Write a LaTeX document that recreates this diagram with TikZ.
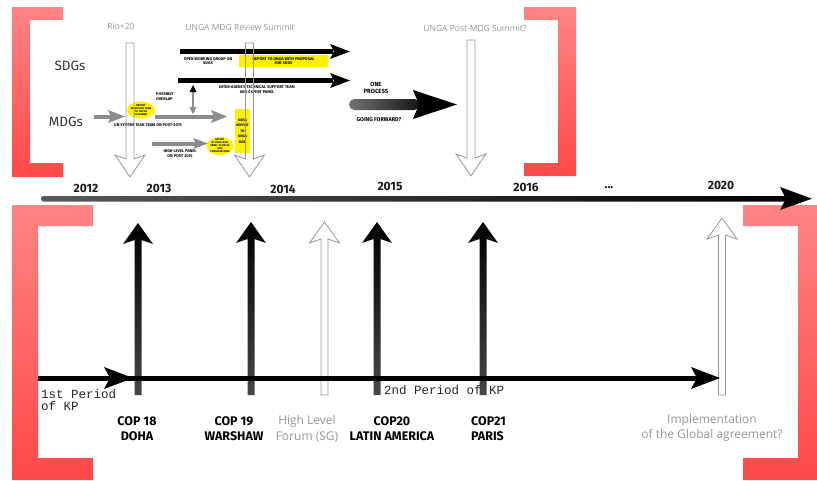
\documentclass[tikz,border=0pt]{standalone}
\usepackage{fontspec}
\setmainfont{Fira Sans}
\newfontfamily\graysans{Open Sans}
\newfontfamily\monof{Liberation Mono}
\usetikzlibrary{shapes.geometric}
\definecolor{brLight}{RGB}{255,132,132}
\definecolor{brDark}{RGB}{255,72,72}
\definecolor{hollowc}{RGB}{150,150,150}
\definecolor{lblgray}{RGB}{150,150,150}
\definecolor{ylw}{RGB}{255,240,0}
\definecolor{mdgc}{RGB}{140,140,140}
\newcommand\upArrow[4]{%
  \path[#1] ({#2-3.5},#4) -- ({#2-3.5},{#3+17}) -- ({#2-15},{#3+21}) -- (#2,#3)
    -- ({#2+15},{#3+21}) -- ({#2+3.5},{#3+17}) -- ({#2+3.5},#4) -- cycle;}
\newcommand\downArrow[4]{%
  \path[#1] ({#2-4},#3) -- ({#2+4},#3) -- ({#2+4},{#4-18}) -- ({#2+15},{#4-22}) -- (#2,#4)
    -- ({#2-15},{#4-22}) -- ({#2-4},{#4-18}) -- cycle;}
\begin{document}
\begin{tikzpicture}[x=1pt,y=-1pt,
  bracket/.style={top color=brLight, bottom color=brDark, draw=none},
  hollowarr/.style={draw=hollowc, line width=0.8pt},
  hollowup/.style={draw=hollowc, line width=0.8pt, fill=white},
  solidup/.style={top color=black, bottom color=black!72, draw=none},
  year/.style={font=\fontsize{12}{12}\selectfont\bfseries, text=black!90, inner sep=0},
  grayt/.style={font=\graysans\fontsize{8.5}{9}\selectfont, text=lblgray, inner sep=0},
  graybig/.style={font=\graysans\fontsize{12}{15.5}\selectfont, text=lblgray, align=center, inner sep=0},
  cop/.style={font=\fontsize{12.5}{15}\selectfont\bfseries, align=center, inner sep=0},
  tinyt/.style={font=\fontsize{4}{4.6}\selectfont\bfseries, align=center, inner sep=0},
  tinier/.style={font=\fontsize{2.6}{3}\selectfont\bfseries, align=center, inner sep=0},
  mono/.style={font=\monof\fontsize{12.5}{11.5}\selectfont, text=black!85, inner sep=0},
  mdgarr/.style={fill=mdgc, draw=none},
  blackarr/.style={fill=black, draw=none},
  yellowbox/.style={fill=ylw, draw=none}]
\useasboundingbox (0,0) rectangle (817,480);
% brackets
\path[bracket] (12,7) -- (63,7) -- (63,20) -- (30,20) -- (30,163) -- (63,163) -- (63,177) -- (12,177) -- cycle;
\path[bracket] (524,7) -- (576,7) -- (576,176) -- (524,176) -- (524,163) -- (558,163) -- (558,20) -- (524,20) -- cycle;
\path[bracket] (12,205) -- (93,205) -- (93,226) -- (38,226) -- (38,458) -- (93,458) -- (93,480) -- (12,480) -- cycle;
\path[bracket] (743,205) -- (817,205) -- (817,480) -- (743,480) -- (743,458) -- (798,458) -- (798,226) -- (743,226) -- cycle;

% top section titles
\node[grayt] (rio) at (121,26) {Rio+20};
\node[grayt] (unga1) at (240,27) {UNGA MDG Review Summit};
\node[grayt] (unga2) at (475,28) {UNGA Post-MDG Summit?};
\node[font=\fontsize{13.5}{14}\selectfont, text=black!80, inner sep=0] (sdg) at (70,66) {SDGs};
\node[font=\fontsize{13.5}{14}\selectfont, text=black!80, inner sep=0] (mdg) at (66,122) {MDGs};

% SDG arrows
\path[blackarr] (180,49) rectangle (333,54);
\path[blackarr] (330,44) -- (350,51.5) -- (330,59) -- (334,51.5) -- cycle;
\path[blackarr] (178,78) rectangle (333,83);
\path[blackarr] (330,73) -- (350,80.5) -- (330,88) -- (334,80.5) -- cycle;
\node[tinyt] (owg) at (208,61) {OPEN WORKING GROUP ON\\SDGS};
\path[yellowbox] (239,55) rectangle (328,67);
\node[tinyt] (rep) at (283.5,61) {REPORT TO UNGA WITH PROPOSAL\\FOR SDGS};
\node[tinyt] (iat) at (257,89.5) {INTER-AGENCY TECHNICAL SUPPORT TEAM\\AND EXPERT PANEL};

% one process arrow
\path[left color=black!55, right color=black!92, rounded corners=5.5pt] (349,99) rectangle (420,110);
\path[blackarr] (413,90) -- (457,104.5) -- (413,119) -- (419,104.5) -- cycle;
\node[font=\fontsize{6}{7}\selectfont\bfseries, align=center, inner sep=0] (onep) at (376,88) {ONE\\PROCESS};
\node[font=\fontsize{5.5}{6}\selectfont\bfseries, inner sep=0] (gf) at (379,119.5) {GOING FORWARD?};

% MDG arrows
\path[mdgarr] (94,114.5) rectangle (111,118.5);
\path[mdgarr] (108,110) -- (125,116.5) -- (108,123) -- (111,116.5) -- cycle;
\path[mdgarr] (155,114.5) rectangle (214,118.5);
\path[mdgarr] (211,110) -- (227,116.5) -- (211,123) -- (214,116.5) -- cycle;
\path[mdgarr] (152,141.5) rectangle (196,145.5);
\path[mdgarr] (193,138) -- (208,143.5) -- (193,149) -- (196,143.5) -- cycle;
\draw[mdgc, line width=1.6pt] (193,90) -- (193,108);
\path[blackarr] (189.5,92) -- (193,85) -- (196.5,92) -- cycle;
\path[mdgarr] (189.5,107) -- (193,114) -- (196.5,107) -- cycle;
\node[tinyt, align=left, anchor=west] (ovl) at (156,96.5) {POSSIBLY\\OVERLAP};
\node[tinyt] (ustt) at (148,125.5) {UN SYSTEM TASK TEAM ON POST-2015};
\node[tinyt] (hlp) at (180,153.5) {HIGH LEVEL PANEL\\ON POST 2015};
\node[ellipse, fill=ylw, minimum width=28pt, minimum height=17pt, inner sep=0] (ell1) at (141,110) {};
\node[tinier] (ell1t) at (ell1.center) {REPORT\\FROM TASK TEAM\\TO THE UN\\SG SUMMIT};
\node[ellipse, fill=ylw, minimum width=27pt, minimum height=18pt, inner sep=0] (ell2) at (220,146) {};
\node[tinier] (ell2t) at (ell2.center) {REPORT\\OF HIGH LEVEL\\PANEL TO UN SG\\AND\\CONSULTATIONS};
\path[yellowbox] (235,109) rectangle (250,153);
\node[font=\fontsize{3.5}{5.5}\selectfont\bfseries, align=center, inner sep=0] (unsg) at (242.5,131) {UNSG\\REPORT\\TO\\UNGA\\MDG};

% hollow down arrows
\downArrow{hollowarr}{130}{43}{177}
\downArrow{hollowarr}{249.5}{43}{177}
\downArrow{hollowarr}{471}{40}{176}

% main timeline
\path[left color=black!65, right color=black, rounded corners=2.5pt] (41,196) rectangle (788,201.5);
\path[blackarr] (780,187) -- (812,198.7) -- (780,210) -- (786,198.7) -- cycle;
\node[year] (y12) at (86,188) {2012};
\node[year] (y13) at (159,188) {2013};
\node[year] (y14) at (283,189) {2014};
\node[year] (y15) at (390,186) {2015};
\node[year] (y16) at (526,187) {2016};
\node[year] (ydots) at (609,188) {...};
\node[year] (y20) at (721,185) {2020};

% bottom up arrows
\upArrow{solidup}{138}{223}{395}
\upArrow{solidup}{251}{222}{395}
\upArrow{hollowup}{324.5}{222}{395}
\upArrow{solidup}{377}{222}{395}
\upArrow{solidup}{483}{222}{395}
\upArrow{hollowup}{722}{218}{395}

% Kyoto periods line
\path[blackarr] (38,375.5) rectangle (700,380.5);
\path[blackarr] (104,367) -- (133,378) -- (104,389) -- (110,378) -- cycle;
\path[blackarr] (691,367) -- (720,378) -- (691,389) -- (697,378) -- cycle;
\node[mono, align=left, anchor=north west] (kp1) at (41,389.5) {1st Period\\of KP};
\node[mono, anchor=west] (kp2) at (384,390.5) {2nd Period of KP};

% bottom labels
\node[cop] (cop18) at (137,429) {COP 18\\DOHA};
\node[cop] (cop19) at (234,429) {COP 19\\WARSHAW};
\node[graybig] (hlf) at (307,429) {High Level\\Forum (SG)};
\node[cop] (cop20) at (392,429) {COP20\\LATIN AMERICA};
\node[cop, align=left, anchor=west] (cop21) at (471,429) {COP21\\PARIS};
\node[graybig] (impl) at (712,428) {Implementation\\of the Global agreement?};
\end{tikzpicture}
\end{document}
